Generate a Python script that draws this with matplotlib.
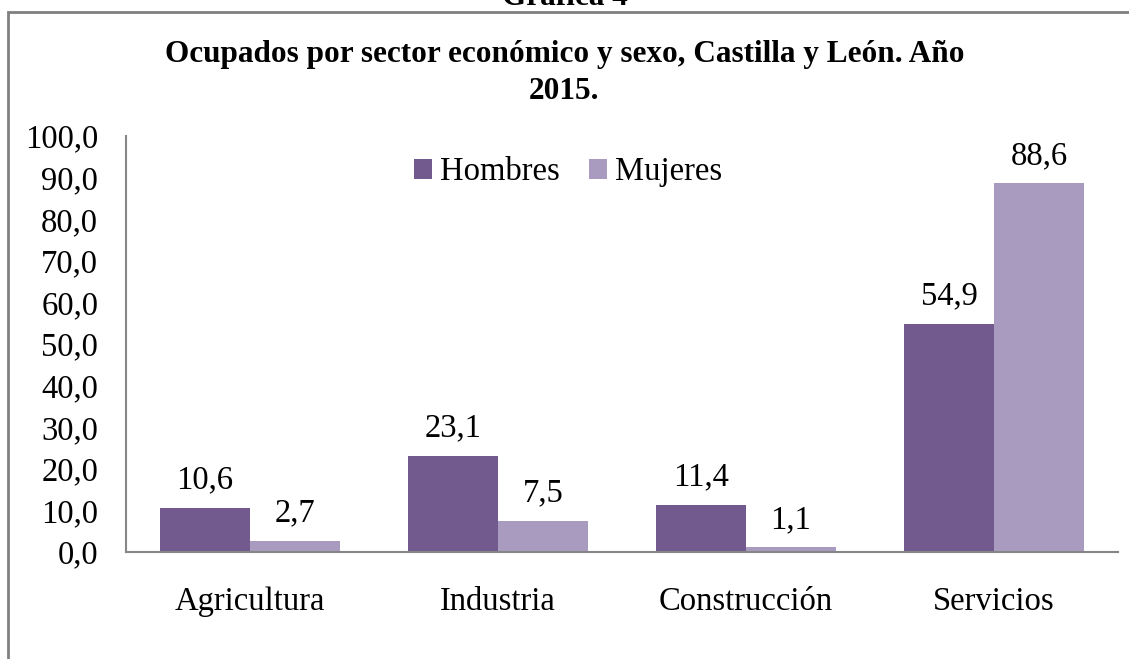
import matplotlib
matplotlib.use("Agg")
import matplotlib.pyplot as plt
import matplotlib.patches as mpatches
import numpy as np

categories = ["Agricultura", "Industria", "Construcción", "Servicios"]
hombres = [10.6, 23.1, 11.4, 54.9]
mujeres = [2.7, 7.5, 1.1, 88.6]
yticks = [0, 10, 20, 30, 40, 50, 60, 70, 80, 90, 100]

c_h = "#725A8E"
c_m = "#A99BC0"
serif = ["Liberation Serif", "DejaVu Serif"]
plt.rcParams["font.family"] = serif
FS = 23.5

W, H = 1129, 659
fig = plt.figure(figsize=(W / 100, H / 100), dpi=100)
ax = fig.add_axes([126 / W, 1 - 552 / H, (1118 - 126) / W, (552 - 136) / H])

x = np.arange(len(categories))
bw = 90 / 248
ax.bar(x - bw / 2, hombres, bw, color=c_h, label="Hombres")
ax.bar(x + bw / 2, mujeres, bw, color=c_m, label="Mujeres")

def fmt(v):
    return f"{v:.1f}".replace(".", ",")

for xi, v in zip(x - bw / 2, hombres):
    ax.annotate(fmt(v), (xi, v), xytext=(0, 14), textcoords="offset points",
                ha="center", va="baseline", fontsize=FS)
for xi, v in zip(x + bw / 2, mujeres):
    ax.annotate(fmt(v), (xi, v), xytext=(0, 14), textcoords="offset points",
                ha="center", va="baseline", fontsize=FS)

ax.set_xlim(-0.5, len(categories) - 0.5)
ax.set_ylim(0, 100)
ax.set_yticks(yticks)
ax.set_yticklabels([fmt(float(t)) for t in yticks], fontsize=FS)
ax.set_xticks(x)
ax.set_xticklabels(categories, fontsize=FS)
ax.tick_params(axis="y", length=0, pad=20)
ax.tick_params(axis="x", length=0, pad=25)
for s in ["top", "right"]:
    ax.spines[s].set_visible(False)
for s in ["left", "bottom"]:
    ax.spines[s].set_color("#868686")
    ax.spines[s].set_linewidth(1.5)

leg = fig.legend(*ax.get_legend_handles_labels(), loc="center",
                 bbox_to_anchor=(568 / W, 1 - 172 / H), ncol=2, frameon=False,
                 fontsize=FS, handlelength=0.55, handleheight=0.55, handletextpad=0.25,
                 columnspacing=0.9, borderpad=0)

TFS = 22.5
fig.text(0.5, 1 - 62 / H, "Ocupados por sector económico y sexo, Castilla y León. Año",
         ha="center", va="baseline", fontsize=TFS, fontweight="bold")
fig.text(0.5, 1 - 99 / H, "2015.", ha="center", va="baseline", fontsize=TFS, fontweight="bold")
fig.text(0.5, 1 - 5 / H, "Gráfica 4", ha="center", va="baseline", fontsize=TFS, fontweight="bold")

rect = mpatches.Rectangle((8 / W, -0.1), 1.2, 1.1 - 12 / H, transform=fig.transFigure,
                          fill=False, edgecolor="#808080", linewidth=2)
fig.patches.append(rect)

fig.savefig("out.png", dpi=100)
